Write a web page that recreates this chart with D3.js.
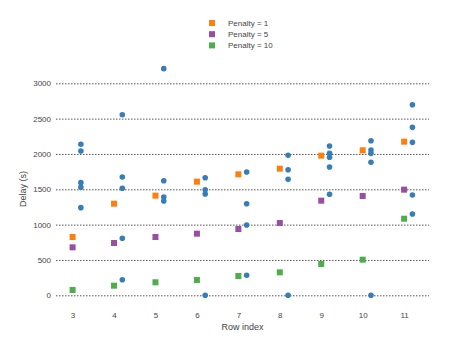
<!DOCTYPE html>
<html>
<head>
<meta charset="utf-8">
<script src="https://cdn.jsdelivr.net/npm/d3@7"></script>
<style>
  body { margin: 0; background: #fff; }
  text { font-family: "Liberation Sans", Arial, sans-serif; }
</style>
</head>
<body>
<div id="chart"></div>
<script>
// rows on the x axis
const rows = [3, 4, 5, 6, 7, 8, 9, 10, 11];

// square markers, one per row
const penalty1 = [825, 1296, 1410, 1608, 1712, 1792, 1976, 2052, 2174];
const penalty5 = [679, 740, 825, 872, 938, 1023, 1339, 1405, 1495];
const penalty10 = [75, 136, 184, 216, 273, 325, 443, 504, 1084];

// blue dots, several per row
const delays = [
  [2137, 2042, 1594, 1528, 1240],
  [2556, 1674, 1514, 807, 221],
  [3207, 1622, 1391, 1334],
  [1664, 1494, 1433, 0],
  [1745, 1296, 995, 283],
  [1981, 1777, 1641, 0],
  [2113, 2009, 1953, 1815, 1429],
  [2188, 2056, 2009, 1882, 0],
  [2697, 2377, 2165, 1419, 1150]
];

const yTicks = [0, 500, 1000, 1500, 2000, 2500, 3000];

const width = 455, height = 342;

const svg = d3.select("#chart")
  .append("svg")
  .attr("width", width)
  .attr("height", height);

const xScale = d3.scaleLinear()
  .domain([2.6, 11.6])
  .range([56, 429]);

const yScale = d3.scaleLinear()
  .domain([0, 3000])
  .range([295.3, 83.3]);

// y axis with dashed grid lines
const yAxis = svg.append("g")
  .attr("transform", `translate(56,0)`)
  .call(d3.axisLeft(yScale).tickValues(yTicks).tickFormat(d3.format("d"))
    .tickSize(-(429 - 56)).tickPadding(5));
yAxis.select(".domain").remove();
yAxis.selectAll(".tick line")
  .attr("stroke", "#555")
  .attr("stroke-dasharray", "1.5,1.5");
yAxis.selectAll(".tick text")
  .attr("font-size", "8px")
  .attr("fill", "#444");

// x axis, labels only
const xAxis = svg.append("g")
  .attr("transform", `translate(0,312)`)
  .call(d3.axisBottom(xScale).tickValues(rows).tickSize(0).tickPadding(0));
xAxis.select(".domain").remove();
xAxis.selectAll(".tick text")
  .attr("font-size", "8px")
  .attr("fill", "#444");

// axis titles
svg.append("text")
  .attr("x", 242.5)
  .attr("y", 330)
  .attr("text-anchor", "middle")
  .attr("font-size", "9px")
  .attr("fill", "#444")
  .text("Row index");

svg.append("text")
  .attr("transform", "translate(26,189) rotate(-90)")
  .attr("text-anchor", "middle")
  .attr("font-size", "9px")
  .attr("fill", "#444")
  .text("Delay (s)");

// blue dots, nudged right of the row
const dots = [];
rows.forEach((r, i) => delays[i].forEach(v => dots.push({ row: r, value: v })));

svg.selectAll("circle.delay")
  .data(dots)
  .enter()
  .append("circle")
  .attr("class", "delay")
  .attr("cx", d => xScale(d.row + 0.2))
  .attr("cy", d => yScale(d.value))
  .attr("r", 2.8)
  .attr("fill", "#377eb8");

// square series
const series = [
  { name: "Penalty = 1", values: penalty1, color: "#ff7f0e" },
  { name: "Penalty = 5", values: penalty5, color: "#984ea3" },
  { name: "Penalty = 10", values: penalty10, color: "#4daf4a" }
];

const sq = 6;
series.forEach(s => {
  svg.selectAll(null)
    .data(s.values)
    .enter()
    .append("rect")
    .attr("x", (d, i) => xScale(rows[i]) - sq / 2)
    .attr("y", d => yScale(d) - sq / 2)
    .attr("width", sq)
    .attr("height", sq)
    .attr("fill", s.color);
});

// legend
const legend = svg.append("g").attr("transform", "translate(212,23)");
series.forEach((s, i) => {
  const g = legend.append("g").attr("transform", `translate(0,${i * 11.2})`);
  g.append("rect")
    .attr("x", -3).attr("y", -3)
    .attr("width", 6).attr("height", 6)
    .attr("fill", s.color);
  g.append("text")
    .attr("x", 16)
    .attr("y", 3)
    .attr("font-size", "8px")
    .attr("fill", "#444")
    .text(s.name);
});
</script>
</body>
</html>
